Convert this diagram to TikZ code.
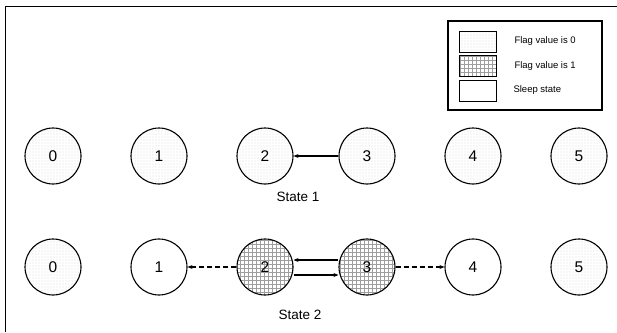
\documentclass[tikz,border=0pt]{standalone}
\usepackage{fontspec}
\setmainfont{Liberation Sans}
\usetikzlibrary{patterns,arrows.meta}
\pgfdeclarepatternformonly{mygrid}{\pgfqpoint{-1pt}{-1pt}}{\pgfqpoint{4pt}{4pt}}{\pgfqpoint{4pt}{4pt}}{%
  \pgfsetlinewidth{0.4pt}%
  \pgfpathmoveto{\pgfqpoint{0pt}{0pt}}\pgfpathlineto{\pgfqpoint{0pt}{4.01pt}}%
  \pgfpathmoveto{\pgfqpoint{0pt}{0pt}}\pgfpathlineto{\pgfqpoint{4.01pt}{0pt}}%
  \pgfusepath{stroke}}
\pgfdeclarepatternformonly{mydots}{\pgfqpoint{-1pt}{-1pt}}{\pgfqpoint{1pt}{1pt}}{\pgfqpoint{3pt}{3pt}}{%
  \pgfpathcircle{\pgfqpoint{0pt}{0pt}}{0.45pt}\pgfusepath{fill}}
\tikzset{
  st/.style={circle,draw,line width=1.1pt,minimum size=56pt,inner sep=0pt,font=\fontsize{15.5}{17}\selectfont},
  fz/.style={st,pattern=mydots,pattern color=black!40},
  fo/.style={st,pattern=mygrid,pattern color=black!38},
  sl/.style={st,fill=white},
  arr/.style={line width=1.1pt,-{Stealth[length=5pt,width=4pt]}},
  darr/.style={arr,dash pattern=on 5pt off 3pt},
  lab/.style={font=\fontsize{13.5}{15}\selectfont},
  sw/.style={draw,line width=0.9pt,minimum width=37pt,minimum height=21pt,inner sep=0pt},
  lt/.style={font=\fontsize{9.5}{11}\selectfont,anchor=west}
}
\begin{document}
\begin{tikzpicture}[x=1pt,y=-1pt]
\useasboundingbox (0,0) rectangle (617,332);
\draw[line width=1.6pt] (5.5,332) -- (5.5,6.5) -- (617,6.5);
% legend
\node[draw,line width=1.1pt,minimum width=154pt,minimum height=89pt,inner sep=0pt] (leg) at (525,65.5) {};
\node[sw,pattern=mydots,pattern color=black!40] (s0) at (477.5,41.5) {};
\node[sw,pattern=mygrid,pattern color=black!38] (s1) at (477.5,66) {};
\node[sw] (s2) at (477.5,90.5) {};
\node[lt] (t0) at (511,41.5) {Flag value is 0};
\node[lt] (t1) at (511,66) {Flag value is 1};
\node[lt] (t2) at (510,90.5) {Sleep state};
% state 1
\node[fz] (a0) at (53,156) {0};
\node[fz] (a1) at (159,156) {1};
\node[fz] (a2) at (265,156) {2};
\node[fz] (a3) at (367,156) {3};
\node[fz] (a4) at (473,156) {4};
\node[fz] (a5) at (579,156) {5};
\draw[arr] (a3) -- (a2);
\node[lab] (l1) at (298,197) {State 1};
% state 2
\node[fz] (b0) at (53,267) {0};
\node[sl] (b1) at (159,267) {1};
\node[fo] (b2) at (265,267) {2};
\node[fo] (b3) at (367,267) {3};
\node[sl] (b4) at (473,267) {4};
\node[fz] (b5) at (579,267) {5};
\draw[darr] (b2) -- (b1);
\draw[darr] (b3) -- (b4);
\draw[arr] (b3.west |- 0,260) -- (b2.east |- 0,260);
\draw[arr] (b2.east |- 0,275) -- (b3.west |- 0,275);
\node[lab] (l2) at (300,315) {State 2};
\end{tikzpicture}
\end{document}
